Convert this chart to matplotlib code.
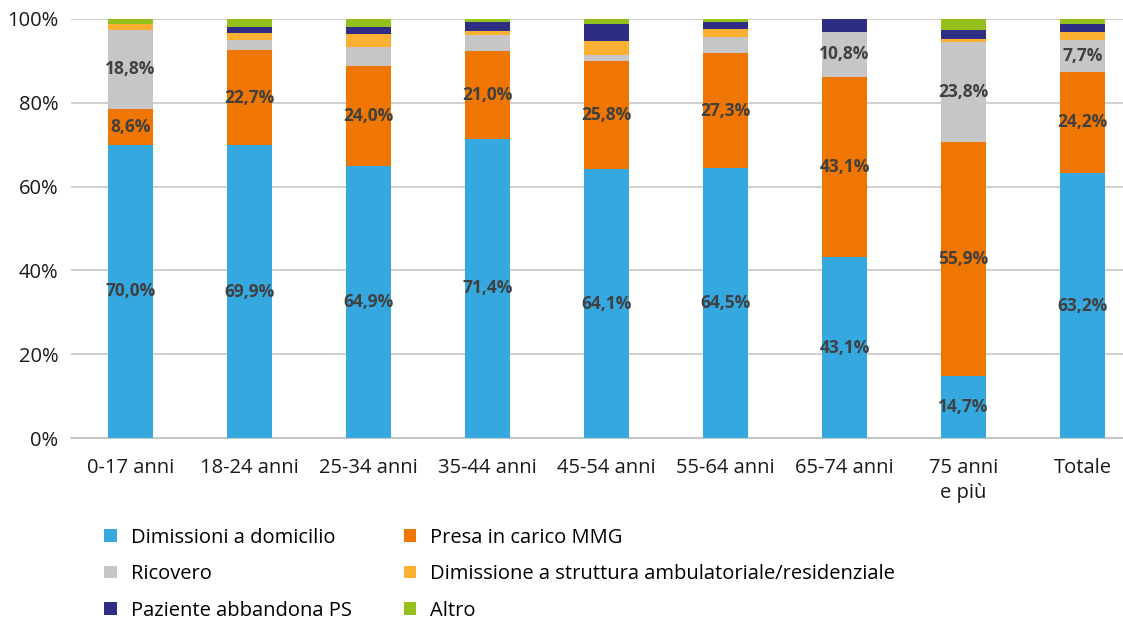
import matplotlib
matplotlib.use("Agg")
import matplotlib.pyplot as plt
from matplotlib.patches import Patch
import numpy as np

categories = ["0-17 anni", "18-24 anni", "25-34 anni", "35-44 anni", "45-54 anni",
              "55-64 anni", "65-74 anni", "75 anni\ne più", "Totale"]
series_names = ["Dimissioni a domicilio", "Presa in carico MMG", "Ricovero",
                "Dimissione a struttura ambulatoriale/residenziale",
                "Paziente abbandona PS", "Altro"]
dimissioni = [70.0, 69.9, 64.9, 71.4, 64.1, 64.5, 43.1, 14.7, 63.2]
presa_mmg = [8.6, 22.7, 24.0, 21.0, 25.8, 27.3, 43.1, 55.9, 24.2]
ricovero = [18.8, 2.5, 4.5, 3.8, 1.5, 4.0, 10.8, 23.8, 7.7]
struttura = [1.3, 1.6, 3.1, 1.0, 3.3, 1.9, 0.0, 0.9, 1.7]
abbandona = [0.0, 1.4, 1.7, 2.1, 4.1, 1.7, 3.0, 2.1, 1.9]
altro = [1.3, 1.9, 1.8, 0.7, 1.2, 0.6, 0.0, 2.6, 1.3]

colors = ["#35A8E0", "#EE7601", "#C6C6C6", "#FBB034", "#2E2D83", "#95C11F"]
all_series = [dimissioni, presa_mmg, ricovero, struttura, abbandona, altro]

plt.rcParams['font.family'] = ['Open Sans', 'DejaVu Sans']

fig = plt.figure(figsize=(11.23, 6.2), dpi=100)
ax = fig.add_axes([71/1123, 1-438/620, (1142-71)/1123, (438-19)/620])

x = np.arange(len(categories))
bottom = np.zeros(len(categories))
for idx, (vals, col) in enumerate(zip(all_series, colors)):
    vals = np.array(vals)
    ax.bar(x, vals, width=0.38, bottom=bottom, color=col, zorder=3)
    if idx < 3:
        for xi, b, v in zip(x, bottom, vals):
            if v >= 7:
                ax.text(xi, b + v / 2, f"{v:.1f}%".replace(".", ","), ha="center",
                        va="center", fontsize=12.5, fontweight="bold", color="#404040",
                        zorder=4)
    bottom += vals

ax.set_xlim(-0.5, 8.5)
ax.set_ylim(0, 100)
ax.set_yticks([0, 20, 40, 60, 80, 100])
ax.set_yticklabels([f"{t}%" for t in [0, 20, 40, 60, 80, 100]])
ax.set_xticks(x)
ax.set_xticklabels(categories, linespacing=1.35)
ax.grid(axis="y", color="#C8C8C8", linewidth=1.2, zorder=0)
for s in ["top", "right", "left"]:
    ax.spines[s].set_visible(False)
ax.spines["bottom"].set_color("#C0C0C0")
ax.spines["bottom"].set_linewidth(1.2)
ax.tick_params(axis="both", length=0, labelsize=14.5, colors="#1A1A1A")
ax.tick_params(axis="x", pad=14.5)
ax.tick_params(axis="y", pad=9)

order = [0, 2, 4, 1, 3, 5]
handles = [Patch(facecolor=colors[i], label=series_names[i]) for i in order]
fig.legend(handles=handles, ncol=2, loc="upper left", bbox_to_anchor=(0.093, 0.149),
           frameon=False, fontsize=14.5, handlelength=0.6, handleheight=0.6,
           handletextpad=0.7, columnspacing=2.6, labelspacing=0.82,
           borderpad=0, borderaxespad=0)

fig.savefig("out.png", dpi=100)
